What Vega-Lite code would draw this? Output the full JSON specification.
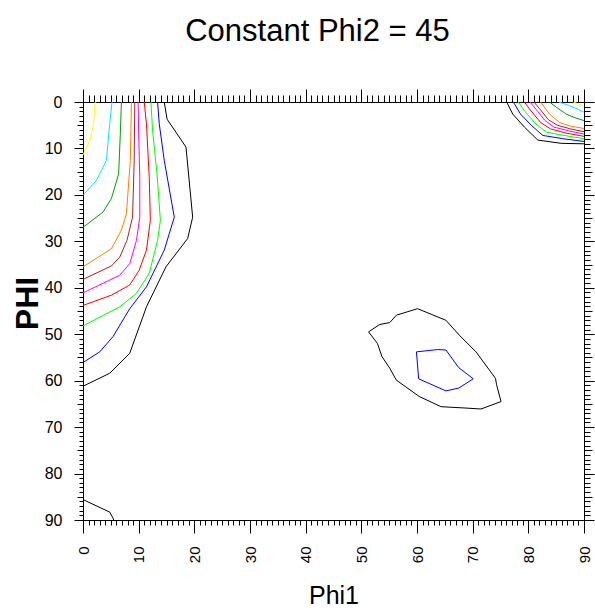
{
  "$schema": "https://vega.github.io/schema/vega-lite/v6.json",
  "autosize": "none",
  "width": 501,
  "height": 418,
  "padding": {"left": 83, "top": 102, "right": 11, "bottom": 93},
  "background": "white",
  "config": {
    "view": {"stroke": "black", "strokeWidth": 1},
    "axis": {"grid": false, "domainColor": "black", "tickColor": "black", "labelColor": "black", "titleColor": "black", "labelFont": "Liberation Sans, sans-serif", "titleFont": "Liberation Sans, sans-serif", "tickWidth": 1, "domainWidth": 1}
  },
  "title": {"text": "Constant Phi2 = 45", "font": "Liberation Sans, sans-serif", "fontSize": 31, "fontWeight": "normal", "color": "black", "anchor": "middle", "offset": 41, "dx": -16},
  "data": {"values": [
    {"s": "yL", "c": "yellow", "i": 0, "x": 2.2, "y": 0}, {"s": "yL", "c": "yellow", "i": 1, "x": 1.9, "y": 4.7}, {"s": "yL", "c": "yellow", "i": 2, "x": 1.2, "y": 8.3}, {"s": "yL", "c": "yellow", "i": 3, "x": 0, "y": 11.4},
    {"s": "cL", "c": "cyan", "i": 0, "x": 5.2, "y": 0}, {"s": "cL", "c": "cyan", "i": 1, "x": 4.8, "y": 4.7}, {"s": "cL", "c": "cyan", "i": 2, "x": 4.2, "y": 12.6}, {"s": "cL", "c": "cyan", "i": 3, "x": 2.4, "y": 16.9}, {"s": "cL", "c": "cyan", "i": 4, "x": 0, "y": 20.1},
    {"s": "dL", "c": "dkgreen", "i": 0, "x": 6.9, "y": 0}, {"s": "dL", "c": "dkgreen", "i": 1, "x": 6.7, "y": 6.9}, {"s": "dL", "c": "dkgreen", "i": 2, "x": 6.4, "y": 15.5}, {"s": "dL", "c": "dkgreen", "i": 3, "x": 5.1, "y": 20.8}, {"s": "dL", "c": "dkgreen", "i": 4, "x": 3.6, "y": 23.7}, {"s": "dL", "c": "dkgreen", "i": 5, "x": 0, "y": 27.0},
    {"s": "oL", "c": "orange", "i": 0, "x": 8.7, "y": 0}, {"s": "oL", "c": "orange", "i": 1, "x": 8.5, "y": 12.6}, {"s": "oL", "c": "orange", "i": 2, "x": 7.8, "y": 24.1}, {"s": "oL", "c": "orange", "i": 3, "x": 6.9, "y": 27.6}, {"s": "oL", "c": "orange", "i": 4, "x": 5.1, "y": 31.6}, {"s": "oL", "c": "orange", "i": 5, "x": 0, "y": 35.5},
    {"s": "bL", "c": "brown", "i": 0, "x": 9.3, "y": 0}, {"s": "bL", "c": "brown", "i": 1, "x": 9.2, "y": 12.6}, {"s": "bL", "c": "brown", "i": 2, "x": 8.9, "y": 24.8}, {"s": "bL", "c": "brown", "i": 3, "x": 7.9, "y": 29.8}, {"s": "bL", "c": "brown", "i": 4, "x": 6.6, "y": 33.4}, {"s": "bL", "c": "brown", "i": 5, "x": 5.1, "y": 35.3}, {"s": "bL", "c": "brown", "i": 6, "x": 0, "y": 38.2},
    {"s": "mL", "c": "magenta", "i": 0, "x": 9.9, "y": 0}, {"s": "mL", "c": "magenta", "i": 1, "x": 10.0, "y": 6.9}, {"s": "mL", "c": "magenta", "i": 2, "x": 10.2, "y": 16.2}, {"s": "mL", "c": "magenta", "i": 3, "x": 10.2, "y": 24.8}, {"s": "mL", "c": "magenta", "i": 4, "x": 9.6, "y": 29.8}, {"s": "mL", "c": "magenta", "i": 5, "x": 8.4, "y": 34.8}, {"s": "mL", "c": "magenta", "i": 6, "x": 6.6, "y": 37.3}, {"s": "mL", "c": "magenta", "i": 7, "x": 0, "y": 41.1},
    {"s": "rL", "c": "red", "i": 0, "x": 11.0, "y": 0}, {"s": "rL", "c": "red", "i": 1, "x": 11.4, "y": 4.7}, {"s": "rL", "c": "red", "i": 2, "x": 11.9, "y": 16.2}, {"s": "rL", "c": "red", "i": 3, "x": 12.1, "y": 25.5}, {"s": "rL", "c": "red", "i": 4, "x": 11.4, "y": 31.9}, {"s": "rL", "c": "red", "i": 5, "x": 10.1, "y": 36.2}, {"s": "rL", "c": "red", "i": 6, "x": 8.4, "y": 39.4}, {"s": "rL", "c": "red", "i": 7, "x": 5.1, "y": 41.6}, {"s": "rL", "c": "red", "i": 8, "x": 0, "y": 43.8},
    {"s": "gL", "c": "green", "i": 0, "x": 12.2, "y": 0}, {"s": "gL", "c": "green", "i": 1, "x": 12.5, "y": 6.2}, {"s": "gL", "c": "green", "i": 2, "x": 13.3, "y": 15.5}, {"s": "gL", "c": "green", "i": 3, "x": 13.9, "y": 25.5}, {"s": "gL", "c": "green", "i": 4, "x": 13.4, "y": 29.8}, {"s": "gL", "c": "green", "i": 5, "x": 11.9, "y": 36.9}, {"s": "gL", "c": "green", "i": 6, "x": 9.6, "y": 41.2}, {"s": "gL", "c": "green", "i": 7, "x": 6.6, "y": 44.1}, {"s": "gL", "c": "green", "i": 8, "x": 0, "y": 48.2},
    {"s": "uL", "c": "blue", "i": 0, "x": 13.4, "y": 0}, {"s": "uL", "c": "blue", "i": 1, "x": 13.7, "y": 4.7}, {"s": "uL", "c": "blue", "i": 2, "x": 14.6, "y": 12.6}, {"s": "uL", "c": "blue", "i": 3, "x": 16.4, "y": 24.8}, {"s": "uL", "c": "blue", "i": 4, "x": 14.6, "y": 31.9}, {"s": "uL", "c": "blue", "i": 5, "x": 11.4, "y": 39.8}, {"s": "uL", "c": "blue", "i": 6, "x": 8.4, "y": 44.5}, {"s": "uL", "c": "blue", "i": 7, "x": 5.4, "y": 50.5}, {"s": "uL", "c": "blue", "i": 8, "x": 3.0, "y": 53.8}, {"s": "uL", "c": "blue", "i": 9, "x": 0, "y": 56.1},
    {"s": "kL", "c": "black", "i": 0, "x": 14.6, "y": 0}, {"s": "kL", "c": "black", "i": 1, "x": 15.1, "y": 3.7}, {"s": "kL", "c": "black", "i": 2, "x": 18.5, "y": 9.7}, {"s": "kL", "c": "black", "i": 3, "x": 19.7, "y": 24.8}, {"s": "kL", "c": "black", "i": 4, "x": 18.8, "y": 29.4}, {"s": "kL", "c": "black", "i": 5, "x": 14.9, "y": 35.5}, {"s": "kL", "c": "black", "i": 6, "x": 11.4, "y": 44.1}, {"s": "kL", "c": "black", "i": 7, "x": 8.4, "y": 54.1}, {"s": "kL", "c": "black", "i": 8, "x": 4.8, "y": 58.4}, {"s": "kL", "c": "black", "i": 9, "x": 0, "y": 61.2},
    {"s": "kB", "c": "black", "i": 0, "x": 0, "y": 85.6}, {"s": "kB", "c": "black", "i": 1, "x": 4.8, "y": 88.3}, {"s": "kB", "c": "black", "i": 2, "x": 5.4, "y": 89.6}, {"s": "kB", "c": "black", "i": 3, "x": 5.5, "y": 90},
    {"s": "kR", "c": "black", "i": 0, "x": 76.1, "y": 0}, {"s": "kR", "c": "black", "i": 1, "x": 77.2, "y": 2.6}, {"s": "kR", "c": "black", "i": 2, "x": 79.3, "y": 5.4}, {"s": "kR", "c": "black", "i": 3, "x": 81.7, "y": 8.2}, {"s": "kR", "c": "black", "i": 4, "x": 85.9, "y": 8.9}, {"s": "kR", "c": "black", "i": 5, "x": 90, "y": 9.0},
    {"s": "uR", "c": "blue", "i": 0, "x": 77.3, "y": 0}, {"s": "uR", "c": "blue", "i": 1, "x": 78.6, "y": 2.6}, {"s": "uR", "c": "blue", "i": 2, "x": 80.6, "y": 5.1}, {"s": "uR", "c": "blue", "i": 3, "x": 82.6, "y": 7.2}, {"s": "uR", "c": "blue", "i": 4, "x": 86.2, "y": 7.9}, {"s": "uR", "c": "blue", "i": 5, "x": 90, "y": 8.5},
    {"s": "gR", "c": "green", "i": 0, "x": 78.2, "y": 0}, {"s": "gR", "c": "green", "i": 1, "x": 79.3, "y": 1.9}, {"s": "gR", "c": "green", "i": 2, "x": 81.3, "y": 4.7}, {"s": "gR", "c": "green", "i": 3, "x": 83.3, "y": 6.5}, {"s": "gR", "c": "green", "i": 4, "x": 86.4, "y": 7.2}, {"s": "gR", "c": "green", "i": 5, "x": 90, "y": 7.9},
    {"s": "rR", "c": "red", "i": 0, "x": 79.3, "y": 0}, {"s": "rR", "c": "red", "i": 1, "x": 80.2, "y": 1.5}, {"s": "rR", "c": "red", "i": 2, "x": 82.2, "y": 4.4}, {"s": "rR", "c": "red", "i": 3, "x": 84.0, "y": 5.8}, {"s": "rR", "c": "red", "i": 4, "x": 86.8, "y": 6.7}, {"s": "rR", "c": "red", "i": 5, "x": 90, "y": 7.4},
    {"s": "mR", "c": "magenta", "i": 0, "x": 80.3, "y": 0}, {"s": "mR", "c": "magenta", "i": 1, "x": 81.4, "y": 1.6}, {"s": "mR", "c": "magenta", "i": 2, "x": 83.0, "y": 4.0}, {"s": "mR", "c": "magenta", "i": 3, "x": 84.6, "y": 5.4}, {"s": "mR", "c": "magenta", "i": 4, "x": 87.2, "y": 6.2}, {"s": "mR", "c": "magenta", "i": 5, "x": 90, "y": 6.9},
    {"s": "bR", "c": "brown", "i": 0, "x": 81.0, "y": 0}, {"s": "bR", "c": "brown", "i": 1, "x": 82.0, "y": 1.4}, {"s": "bR", "c": "brown", "i": 2, "x": 83.6, "y": 3.8}, {"s": "bR", "c": "brown", "i": 3, "x": 85.2, "y": 5.0}, {"s": "bR", "c": "brown", "i": 4, "x": 87.6, "y": 5.8}, {"s": "bR", "c": "brown", "i": 5, "x": 90, "y": 6.4},
    {"s": "oR", "c": "orange", "i": 0, "x": 82.2, "y": 0}, {"s": "oR", "c": "orange", "i": 1, "x": 83.8, "y": 2.6}, {"s": "oR", "c": "orange", "i": 2, "x": 85.6, "y": 4.4}, {"s": "oR", "c": "orange", "i": 3, "x": 87.6, "y": 5.2}, {"s": "oR", "c": "orange", "i": 4, "x": 90, "y": 5.7},
    {"s": "dR", "c": "dkgreen", "i": 0, "x": 83.8, "y": 0}, {"s": "dR", "c": "dkgreen", "i": 1, "x": 85.0, "y": 1.1}, {"s": "dR", "c": "dkgreen", "i": 2, "x": 86.8, "y": 2.6}, {"s": "dR", "c": "dkgreen", "i": 3, "x": 88.4, "y": 3.4}, {"s": "dR", "c": "dkgreen", "i": 4, "x": 90, "y": 4.0},
    {"s": "cR", "c": "cyan", "i": 0, "x": 85.5, "y": 0}, {"s": "cR", "c": "cyan", "i": 1, "x": 87.4, "y": 0.8}, {"s": "cR", "c": "cyan", "i": 2, "x": 89.0, "y": 1.6}, {"s": "cR", "c": "cyan", "i": 3, "x": 90, "y": 2.2},
    {"s": "yR", "c": "yellow", "i": 0, "x": 88.1, "y": 0}, {"s": "yR", "c": "yellow", "i": 1, "x": 89.8, "y": 0.8}, {"s": "yR", "c": "yellow", "i": 2, "x": 90, "y": 1.0},
    {"s": "kM", "c": "black", "i": 0, "x": 51.3, "y": 49.5}, {"s": "kM", "c": "black", "i": 1, "x": 53.3, "y": 47.9}, {"s": "kM", "c": "black", "i": 2, "x": 55.1, "y": 47.5}, {"s": "kM", "c": "black", "i": 3, "x": 56.3, "y": 45.9}, {"s": "kM", "c": "black", "i": 4, "x": 60.1, "y": 44.5}, {"s": "kM", "c": "black", "i": 5, "x": 65.2, "y": 47.0}, {"s": "kM", "c": "black", "i": 6, "x": 67.6, "y": 50.2}, {"s": "kM", "c": "black", "i": 7, "x": 70.6, "y": 53.8}, {"s": "kM", "c": "black", "i": 8, "x": 74.1, "y": 59.5}, {"s": "kM", "c": "black", "i": 9, "x": 74.3, "y": 60.9}, {"s": "kM", "c": "black", "i": 10, "x": 75.1, "y": 64.5}, {"s": "kM", "c": "black", "i": 11, "x": 71.5, "y": 66.1}, {"s": "kM", "c": "black", "i": 12, "x": 68.8, "y": 65.9}, {"s": "kM", "c": "black", "i": 13, "x": 64.3, "y": 65.6}, {"s": "kM", "c": "black", "i": 14, "x": 60.4, "y": 63.4}, {"s": "kM", "c": "black", "i": 15, "x": 56.3, "y": 59.9}, {"s": "kM", "c": "black", "i": 16, "x": 55.1, "y": 57.3}, {"s": "kM", "c": "black", "i": 17, "x": 53.7, "y": 54.8}, {"s": "kM", "c": "black", "i": 18, "x": 52.9, "y": 52.0}, {"s": "kM", "c": "black", "i": 19, "x": 51.3, "y": 49.5},
    {"s": "uM", "c": "blue", "i": 0, "x": 59.9, "y": 53.8}, {"s": "uM", "c": "blue", "i": 1, "x": 63.7, "y": 53.3}, {"s": "uM", "c": "blue", "i": 2, "x": 65.2, "y": 53.4}, {"s": "uM", "c": "blue", "i": 3, "x": 67.5, "y": 57.2}, {"s": "uM", "c": "blue", "i": 4, "x": 70.1, "y": 59.6}, {"s": "uM", "c": "blue", "i": 5, "x": 67.5, "y": 61.6}, {"s": "uM", "c": "blue", "i": 6, "x": 65.2, "y": 62.2}, {"s": "uM", "c": "blue", "i": 7, "x": 60.3, "y": 59.6}, {"s": "uM", "c": "blue", "i": 8, "x": 59.9, "y": 53.8}
  ]},
  "resolve": {"axis": {"x": "independent", "y": "independent"}},
  "layer": [
    {
      "mark": {"type": "line", "strokeWidth": 1, "clip": true},
      "encoding": {
        "x": {"field": "x", "type": "quantitative", "scale": {"domain": [0, 90], "nice": false, "zero": false},
              "axis": {"orient": "bottom", "values": [0, 10, 20, 30, 40, 50, 60, 70, 80, 90], "tickSize": 13, "labelAngle": 270, "labelPadding": 13, "labelFontSize": 15, "labelBaseline": "middle", "labelAlign": "right", "title": "Phi1", "titleFontSize": 25, "titleFontWeight": "normal", "titlePadding": 21}},
        "y": {"field": "y", "type": "quantitative", "scale": {"domain": [0, 90], "nice": false, "zero": false, "reverse": true},
              "axis": {"orient": "left", "values": [0, 10, 20, 30, 40, 50, 60, 70, 80, 90], "tickSize": 9, "labelPadding": 12, "labelFontSize": 16, "title": "PHI", "titleFontSize": 32, "titleFontWeight": "bold", "titleAngle": 270, "titleBaseline": "alphabetic", "titleAlign": "center", "titleX": -46, "titleY": 201}},
        "color": {"field": "c", "type": "nominal", "legend": null,
                  "scale": {"domain": ["black", "blue", "green", "red", "magenta", "brown", "orange", "dkgreen", "cyan", "yellow"],
                            "range": ["#000000", "#0000ff", "#00ff00", "#ff0000", "#ff00ff", "#b02020", "#ff8000", "#00a000", "#00e8ff", "#ffff00"]}},
        "detail": {"field": "s", "type": "nominal"},
        "order": {"field": "i", "type": "quantitative"}
      }
    },
    {
      "mark": {"type": "point", "opacity": 0},
      "encoding": {
        "x": {"field": "x", "type": "quantitative", "axis": {"orient": "bottom", "values": [0,1,2,3,4,5,6,7,8,9,10,11,12,13,14,15,16,17,18,19,20,21,22,23,24,25,26,27,28,29,30,31,32,33,34,35,36,37,38,39,40,41,42,43,44,45,46,47,48,49,50,51,52,53,54,55,56,57,58,59,60,61,62,63,64,65,66,67,68,69,70,71,72,73,74,75,76,77,78,79,80,81,82,83,84,85,86,87,88,89,90], "tickSize": 5, "labels": false, "title": null, "domain": false}},
        "y": {"field": "y", "type": "quantitative", "axis": {"orient": "left", "values": [0,1,2,3,4,5,6,7,8,9,10,11,12,13,14,15,16,17,18,19,20,21,22,23,24,25,26,27,28,29,30,31,32,33,34,35,36,37,38,39,40,41,42,43,44,45,46,47,48,49,50,51,52,53,54,55,56,57,58,59,60,61,62,63,64,65,66,67,68,69,70,71,72,73,74,75,76,77,78,79,80,81,82,83,84,85,86,87,88,89,90], "tickSize": 4, "labels": false, "title": null, "domain": false}}
      }
    },
    {
      "mark": {"type": "point", "opacity": 0},
      "encoding": {
        "x": {"field": "x", "type": "quantitative", "axis": {"orient": "top", "values": [0,1,2,3,4,5,6,7,8,9,10,11,12,13,14,15,16,17,18,19,20,21,22,23,24,25,26,27,28,29,30,31,32,33,34,35,36,37,38,39,40,41,42,43,44,45,46,47,48,49,50,51,52,53,54,55,56,57,58,59,60,61,62,63,64,65,66,67,68,69,70,71,72,73,74,75,76,77,78,79,80,81,82,83,84,85,86,87,88,89,90], "tickSize": 7, "labels": false, "title": null}},
        "y": {"field": "y", "type": "quantitative", "axis": {"orient": "right", "values": [0,1,2,3,4,5,6,7,8,9,10,11,12,13,14,15,16,17,18,19,20,21,22,23,24,25,26,27,28,29,30,31,32,33,34,35,36,37,38,39,40,41,42,43,44,45,46,47,48,49,50,51,52,53,54,55,56,57,58,59,60,61,62,63,64,65,66,67,68,69,70,71,72,73,74,75,76,77,78,79,80,81,82,83,84,85,86,87,88,89,90], "tickSize": 6, "labels": false, "title": null}}
      }
    },
    {
      "mark": {"type": "point", "opacity": 0},
      "encoding": {
        "x": {"field": "x", "type": "quantitative", "axis": {"orient": "top", "values": [0, 10, 20, 30, 40, 50, 60, 70, 80, 90], "tickSize": 13, "labels": false, "title": null, "domain": false}},
        "y": {"field": "y", "type": "quantitative", "axis": {"orient": "right", "values": [0, 10, 20, 30, 40, 50, 60, 70, 80, 90], "tickSize": 10, "labels": false, "title": null, "domain": false}}
      }
    },
    {
      "mark": {"type": "point", "opacity": 0},
      "encoding": {
        "x": {"field": "x", "type": "quantitative", "axis": null},
        "y": {"field": "y", "type": "quantitative", "axis": {"orient": "left", "values": [5, 15, 25, 35, 45, 55, 65, 75, 85], "tickSize": 6, "labels": false, "title": null, "domain": false}}
      }
    },
    {
      "mark": {"type": "point", "opacity": 0},
      "encoding": {
        "x": {"field": "x", "type": "quantitative", "axis": null},
        "y": {"field": "y", "type": "quantitative", "axis": {"orient": "right", "values": [5, 15, 25, 35, 45, 55, 65, 75, 85], "tickSize": 8, "labels": false, "title": null, "domain": false}}
      }
    }
  ]
}
